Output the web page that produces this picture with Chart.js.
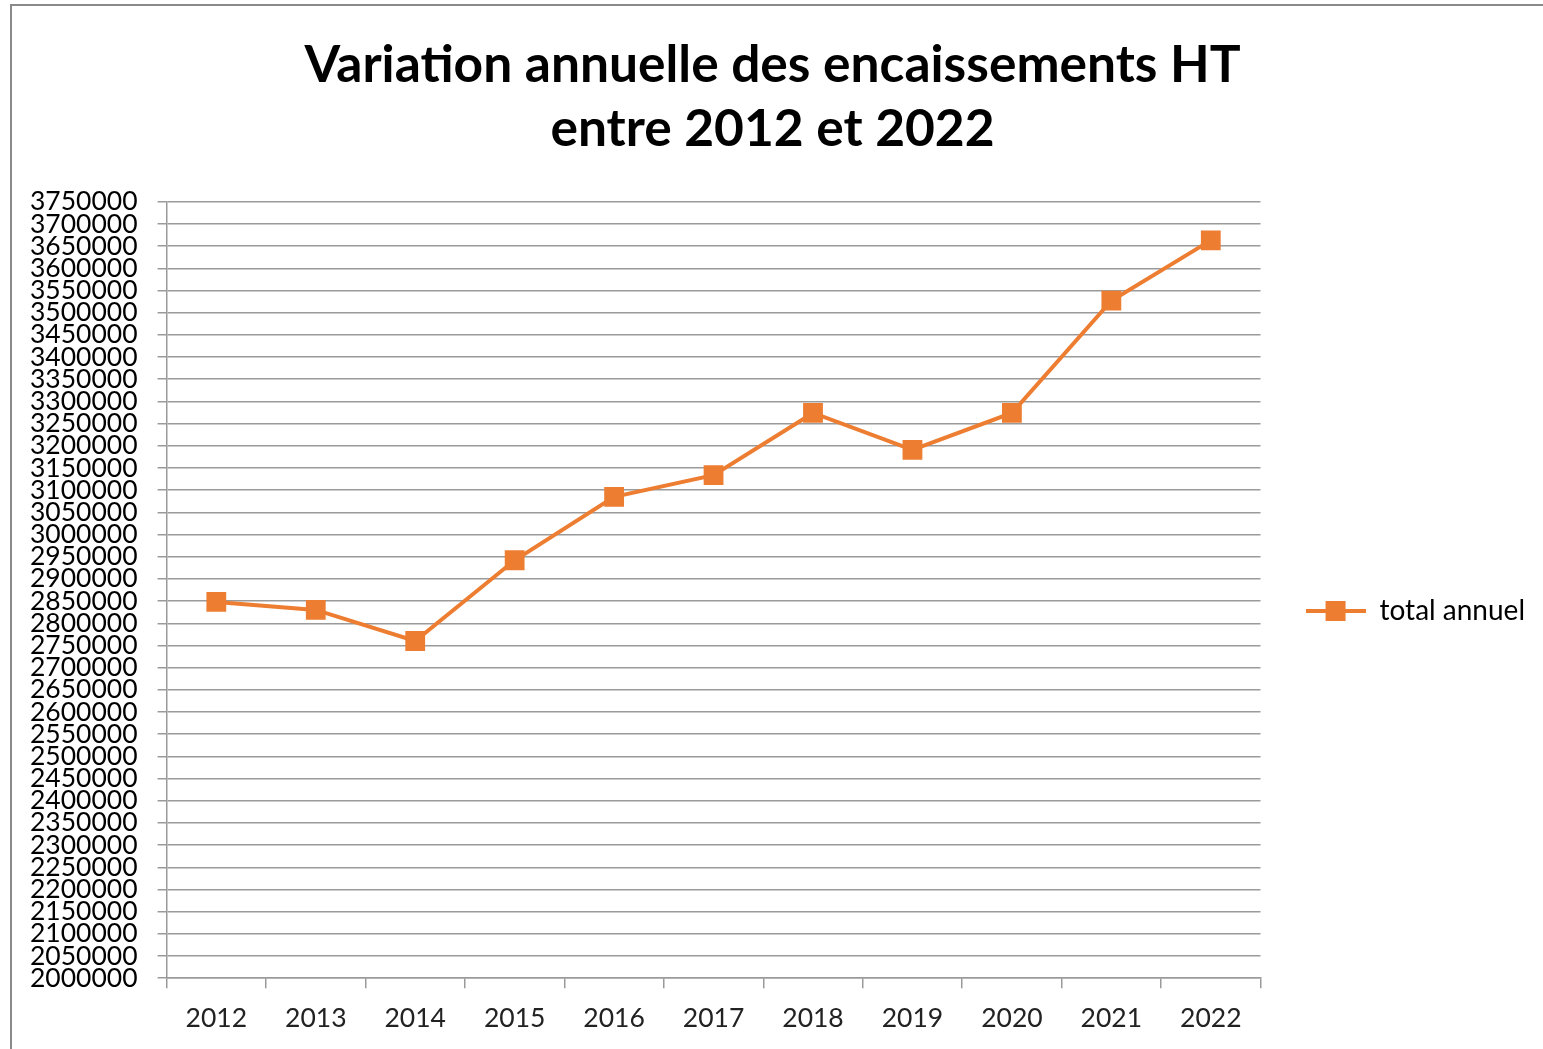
<!DOCTYPE html>
<html>
<head>
<meta charset="utf-8">
<title>Variation annuelle des encaissements HT</title>
<script src="https://cdn.jsdelivr.net/npm/chart.js@4/dist/chart.umd.min.js"></script>
<style>
  body { margin: 0; background: #fff; }
  #wrap { width: 1543px; height: 1049px; }
</style>
</head>
<body>
<div id="wrap"><canvas id="chart" width="1543" height="1049"></canvas></div>
<script>
// data
const years = ["2012", "2013", "2014", "2015", "2016", "2017", "2018", "2019", "2020", "2021", "2022"];
const totalAnnuel = [2848000, 2830000, 2760000, 2942000, 3085000, 3134000, 3274000, 3191000, 3274000, 3527000, 3663000];
const titleLines = ["Variation annuelle des encaissements HT", "entre 2012 et 2022"];
const yMin = 2000000;
const yMax = 3750000;
const yStep = 50000;

const orange = "#ED7D31";
const gridGray = "#9a9a9a";

// legend symbol: short line with a square in the middle
const legendIcon = document.createElement("canvas");
legendIcon.width = 60;
legendIcon.height = 20;
(function () {
  const c = legendIcon.getContext("2d");
  c.strokeStyle = orange;
  c.lineWidth = 4;
  c.beginPath();
  c.moveTo(0, 10);
  c.lineTo(60, 10);
  c.stroke();
  c.fillStyle = orange;
  c.fillRect(20, 0, 20, 20);
})();

// white background + outer frame
const framePlugin = {
  id: "frame",
  beforeDraw(chart) {
    const ctx = chart.ctx;
    ctx.save();
    ctx.fillStyle = "#fff";
    ctx.fillRect(0, 0, chart.width, chart.height);
    ctx.strokeStyle = "#8a8a8a";
    ctx.lineWidth = 2;
    ctx.strokeRect(11, 5, chart.width + 20, chart.height + 20);
    ctx.restore();
  }
};

const ctx = document.getElementById("chart").getContext("2d");
new Chart(ctx, {
  type: "line",
  data: {
    labels: years,
    datasets: [{
      label: "total annuel",
      data: totalAnnuel,
      borderColor: orange,
      backgroundColor: orange,
      borderWidth: 4,
      pointStyle: "rect",
      pointRadius: 14,
      pointHoverRadius: 14,
      pointBorderWidth: 0,
      tension: 0
    }]
  },
  options: {
    responsive: false,
    animation: false,
    layout: { padding: { left: 10, right: 8, top: 0, bottom: 1 } },
    plugins: {
      title: {
        display: true,
        text: titleLines,
        color: "#000",
        font: { family: "Lato", size: 51.5, weight: "bold", lineHeight: 1.26 },
        padding: { top: 32.5, bottom: 39.5 }
      },
      legend: {
        position: "right",
        // empty legend title only pushes the entry down to where it sits in the picture
        title: {
          display: true,
          text: " ",
          font: { size: 10, lineHeight: 1 },
          padding: { top: 164, bottom: 0 }
        },
        labels: {
          usePointStyle: true,
          pointStyleWidth: 60,
          color: "#000",
          font: { family: "Lato", size: 28 },
          padding: 45,
          generateLabels(chart) {
            return chart.data.datasets.map((ds, i) => ({
              text: ds.label,
              fillStyle: orange,
              strokeStyle: orange,
              lineWidth: 0,
              pointStyle: legendIcon,
              hidden: false,
              datasetIndex: i,
              fontColor: "#000"
            }));
          }
        }
      },
      tooltip: { enabled: false }
    },
    scales: {
      x: {
        type: "category",
        offset: true,
        grid: {
          offset: true,
          drawOnChartArea: false,
          drawTicks: true,
          tickLength: 10,
          color: gridGray,
          lineWidth: 1.5
        },
        border: { color: gridGray, width: 1.5 },
        ticks: {
          color: "#222",
          font: { family: "Lato", size: 26.5 },
          padding: 14,
          maxRotation: 0
        }
      },
      y: {
        min: yMin,
        max: yMax,
        grid: {
          color: gridGray,
          lineWidth: 1.5,
          drawTicks: true,
          tickLength: 9
        },
        border: { color: gridGray, width: 1.5 },
        ticks: {
          stepSize: yStep,
          autoSkip: false,
          color: "#000",
          font: { family: "Lato", size: 26.5, lineHeight: 0.85 },
          padding: 20,
          callback: (v) => String(v)
        }
      }
    }
  },
  plugins: [framePlugin]
});
</script>
</body>
</html>
